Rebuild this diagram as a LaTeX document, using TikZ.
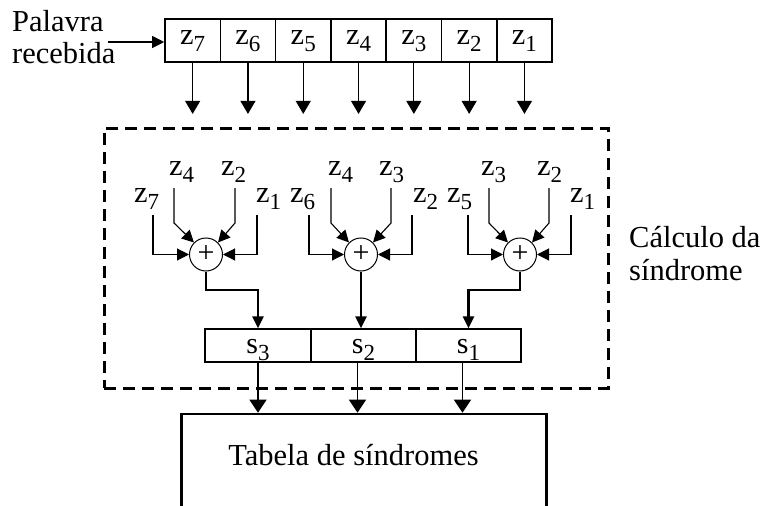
\documentclass[tikz,border=0pt]{standalone}
\usepackage{fontspec}
\setmainfont{Liberation Serif}
\usetikzlibrary{arrows.meta}
\newcommand{\zz}[2]{#1\raisebox{-7.5pt}{\fontsize{23}{23}\selectfont #2}}
\begin{document}
\begin{tikzpicture}[x=1pt,y=-1pt,
  lab/.style={font=\fontsize{30.5}{33}\selectfont, inner sep=0pt},
  cell/.style={draw, line width=1.6pt, minimum width=55.3pt, minimum height=43pt, inner sep=0pt, font=\fontsize{30.5}{33}\selectfont, text height=14pt, text depth=7pt},
  scell/.style={draw, line width=2pt, minimum height=33pt, inner sep=0pt, font=\fontsize{30}{33}\selectfont, text height=15pt, text depth=0pt},
  add/.style={draw, circle, line width=1pt, minimum size=33pt, inner sep=0pt, font=\fontsize{30}{30}\selectfont},
  thinl/.style={line width=1.1pt},
  bigarr/.style={thinl, -{Triangle[length=13pt,width=15pt]}},
  tabarr/.style={thinl, -{Triangle[length=13pt,width=17pt]}},
  smallarr/.style={thinl, -{Triangle[length=12pt,width=12pt]}},
  thickarr/.style={line width=2.8pt, -{Triangle[length=12pt,width=11pt]}},
]
\useasboundingbox (0,0) rectangle (761,506);

% received word
\node[lab, anchor=base west] (pal1) at (12,31) {Palavra};
\node[lab, anchor=base west] (pal2) at (12,63) {recebida};
\coordinate (inp) at (108,42);

% top register
\foreach \i/\x in {7/192.65,6/247.95,5/303.25,4/358.55,3/413.85,2/469.15,1/524.45} {
  \node[cell] (c\i) at (\x,40.6) {\zz{z}{\i}};
  \draw[bigarr] (c\i.south) -- ++(0,51);
}
\draw[smallarr] (inp) -- (inp -| c7.west);

% dashed block
\node[draw, line width=3pt, dash pattern=on 12pt off 7pt, minimum width=504pt, minimum height=260pt, inner sep=0pt] (calc) at (356,258) {};
\node[lab, anchor=base west] (cal1) at (629,247) {Cálculo da};
\node[lab, anchor=base west] (cal2) at (629,280) {síndrome};

% adders
\node[add] (ad1) at (206,254.5) {+};
\node[add] (ad2) at (361,254.5) {+};
\node[add] (ad3) at (520,254.5) {+};

% adder 1 inputs
\node[lab, anchor=base west] (a1o1) at (134,202) {\zz{z}{7}};
\node[lab, anchor=base west] (a1i1) at (169,175) {\zz{z}{4}};
\node[lab, anchor=base west] (a1i2) at (221,175) {\zz{z}{2}};
\node[lab, anchor=base west] (a1o2) at (256,202) {\zz{z}{1}};
\draw[smallarr] (153,215) |- (ad1.west);
\draw[smallarr] (174,188) -- (174,223) -- (ad1.135);
\draw[smallarr] (235,188) -- (235,223) -- (ad1.45);
\draw[smallarr] (257,215) |- (ad1.east);

% adder 2 inputs
\node[lab, anchor=base west] (a2o1) at (290,202) {\zz{z}{6}};
\node[lab, anchor=base west] (a2i1) at (328,175) {\zz{z}{4}};
\node[lab, anchor=base west] (a2i2) at (379,175) {\zz{z}{3}};
\node[lab, anchor=base west] (a2o2) at (413,202) {\zz{z}{2}};
\draw[smallarr] (309,215) |- (ad2.west);
\draw[smallarr] (331,188) -- (331,223) -- (ad2.135);
\draw[smallarr] (391,188) -- (391,223) -- (ad2.45);
\draw[smallarr] (412,215) |- (ad2.east);

% adder 3 inputs
\node[lab, anchor=base west] (a3o1) at (447,202) {\zz{z}{5}};
\node[lab, anchor=base west] (a3i1) at (481,175) {\zz{z}{3}};
\node[lab, anchor=base west] (a3i2) at (537,175) {\zz{z}{2}};
\node[lab, anchor=base west] (a3o2) at (570,202) {\zz{z}{1}};
\draw[smallarr] (468,215) |- (ad3.west);
\draw[smallarr] (489,188) -- (489,223) -- (ad3.135);
\draw[smallarr] (549,188) -- (549,223) -- (ad3.45);
\draw[smallarr] (571,215) |- (ad3.east);

% syndrome register
\node[scell, minimum width=106pt] (s3) at (258,345.8) {\zz{s}{3}};
\node[scell, minimum width=105pt] (s2) at (363.5,345.8) {\zz{s}{2}};
\node[scell, minimum width=105pt] (s1) at (468.5,345.8) {\zz{s}{1}};

\draw[thickarr] (ad1.south) |- (s3.north |- 0,290) -- (s3.north);
\draw[thickarr] (ad2.south) -- (ad2.south |- s2.north);
\draw[thickarr] (ad3.south) |- (s1.north |- 0,290) -- (s1.north);

% table
\node[draw, line width=2.5pt, minimum width=365pt, minimum height=130pt, inner sep=0pt, anchor=north west] (tab) at (180,412.7) {};
\node[lab, anchor=base] (tabt) at (353.5,465) {Tabela de síndromes};

\draw[tabarr] (s3.south) -- (s3.south |- tab.north);
\draw[tabarr] ([xshift=-6pt]s2.south) -- ([xshift=-6pt]s2.south |- tab.north);
\draw[tabarr] ([xshift=-6pt]s1.south) -- ([xshift=-6pt]s1.south |- tab.north);
\end{tikzpicture}
\end{document}
